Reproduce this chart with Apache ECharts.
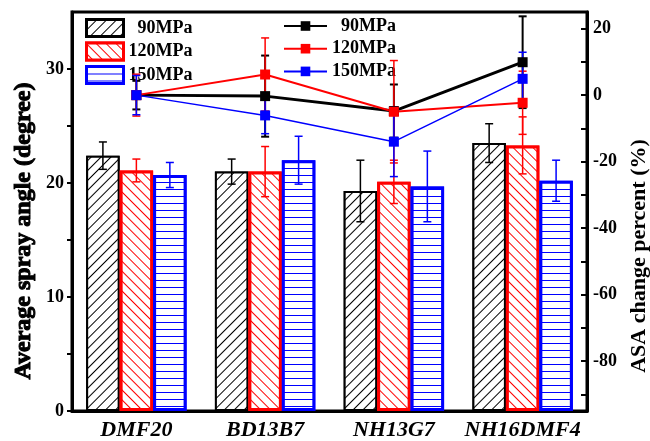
<!DOCTYPE html>
<html>
<head>
<meta charset="utf-8">
<script src="https://cdn.jsdelivr.net/npm/echarts@6/dist/echarts.min.js"></script>
<style>
  html, body { margin: 0; padding: 0; background: #fff; }
  #chart { width: 650px; height: 441px; }
</style>
</head>
<body>
<div id="chart"></div>
<script>
// 数据
var categories = ['DMF20', 'BD13B7', 'NH13G7', 'NH16DMF4'];
var pressures = ['90MPa', '120MPa', '150MPa'];
// 平均喷雾锥角 (degree) 及误差
var angle90 = [22.4, 21.0, 19.3, 23.5];
var angle120 = [21.1, 21.0, 20.1, 23.3];
var angle150 = [20.7, 22.0, 19.7, 20.2];
var angleErr90 = [1.2, 1.1, 2.7, 1.7];
var angleErr120 = [1.0, 2.2, 1.9, 2.5];
var angleErr150 = [1.1, 2.1, 3.1, 1.8];
// ASA 变化百分比 (%) 及误差
var change90 = [0, -0.3, -4.8, 9.9];
var change120 = [0, 6.2, -5.0, -2.3];
var change150 = [0, -6.1, -14.0, 4.9];
var changeErr90 = [4.3, 12.2, 8.0, 13.8];
var changeErr120 = [6.3, 11.0, 15.4, 9.5];
var changeErr150 = [5.9, 5.5, 10.5, 8.0];
// 刻度
var leftTicks = [0, 5, 10, 15, 20, 25, 30];
var leftLabels = [0, 10, 20, 30];
var rightTicks = [-90, -80, -70, -60, -50, -40, -30, -20, -10, 0, 10, 20];
var rightLabels = [-80, -60, -40, -20, 0, 20];

var colors = ['#000000', '#ff0000', '#0000ff'];
var serif = '"Liberation Serif", "Times New Roman", serif';
var barPct = 0.26;

var myChart = echarts.init(document.getElementById('chart'));

function hatch(color, rot) {
    return {
        symbol: 'rect',
        symbolSize: 1,
        dashArrayX: [1, 0],
        dashArrayY: [1, 6],
        rotation: rot,
        color: color,
        backgroundColor: '#fff'
    };
}

function errorSeries(k, vals, errs, axis, width) {
    return {
        type: 'custom',
        yAxisIndex: axis,
        z: axis === 0 ? 4 : 5,
        silent: true,
        data: vals.map(function (v, i) { return [i, v, errs[i]]; }),
        renderItem: function (params, api) {
            // 柱状图的误差棒需要按组内位置偏移
            var off = axis === 0 ? (k - 1) * api.size([1, 0])[0] * barPct : 0;
            var top = api.coord([api.value(0), api.value(1) + api.value(2)]);
            var bot = api.coord([api.value(0), api.value(1) - api.value(2)]);
            var x = top[0] + off;
            var st = { stroke: colors[k], lineWidth: width };
            return {
                type: 'group',
                children: [
                    { type: 'line', shape: { x1: x, y1: top[1], x2: x, y2: bot[1] }, style: st },
                    { type: 'line', shape: { x1: x - 4, y1: top[1], x2: x + 4, y2: top[1] }, style: st },
                    { type: 'line', shape: { x1: x - 4, y1: bot[1], x2: x + 4, y2: bot[1] }, style: st }
                ]
            };
        }
    };
}

var lineNames = ['L90', 'L120', 'L150'];
var angles = [angle90, angle120, angle150];
var angleErrs = [angleErr90, angleErr120, angleErr150];
var changes = [change90, change120, change150];
var changeErrs = [changeErr90, changeErr120, changeErr150];
var decals = [hatch('#000', -Math.PI / 4), hatch('#ff0000', Math.PI / 4), hatch('#0000ff', 0)];
var lineWidths = [3, 2, 1.5];
var borderWidths = [2, 3, 3];

var series = [];
pressures.forEach(function (p, k) {
    series.push({
        name: p,
        type: 'bar',
        yAxisIndex: 0,
        barWidth: (barPct * 100) + '%',
        barGap: '0%',
        z: 2,
        itemStyle: {
            color: '#fff',
            borderColor: colors[k],
            borderWidth: borderWidths[k],
            decal: decals[k]
        },
        data: angles[k]
    });
});
pressures.forEach(function (p, k) {
    series.push(errorSeries(k, angles[k], angleErrs[k], 0, 1.5));
});
pressures.forEach(function (p, k) {
    series.push(errorSeries(k, changes[k], changeErrs[k], 1, k === 0 ? 2 : 1.5));
});
pressures.forEach(function (p, k) {
    series.push({
        name: lineNames[k],
        type: 'line',
        yAxisIndex: 1,
        z: 6,
        symbol: 'rect',
        symbolSize: 10,
        color: colors[k],
        lineStyle: { color: colors[k], width: lineWidths[k] },
        itemStyle: { color: colors[k] },
        data: changes[k]
    });
});

var legendText = {
    padding: 0,
    formatter: function (name) {
        return '{t|' + name.replace('L', '') + (name.charAt(0) === 'L' ? 'MPa' : '') + '}';
    },
    textStyle: {
        rich: {
            t: { width: 64, align: 'right', fontFamily: serif, fontWeight: 'bold', fontSize: 18, lineHeight: 18, color: '#000' }
        }
    }
};

var option = {
    animation: false,
    backgroundColor: '#fff',
    grid: {
        left: 72,
        right: 63,
        top: 12,
        bottom: 28,
        show: true,
        borderColor: '#000',
        borderWidth: 3
    },
    legend: [
        Object.assign({
            orient: 'vertical',
            left: 85,
            top: 18,
            itemWidth: 37,
            itemHeight: 17,
            itemGap: 3.5,
            icon: 'rect',
            data: pressures.map(function (p, k) {
                return {
                    name: p,
                    itemStyle: { color: '#fff', borderColor: colors[k], borderWidth: 3, decal: decals[k] }
                };
            })
        }, legendText),
        Object.assign({
            orient: 'vertical',
            left: 283,
            top: 17,
            itemWidth: 43,
            itemHeight: 12,
            itemGap: 4.7,
            data: lineNames
        }, legendText)
    ],
    xAxis: {
        type: 'category',
        data: categories,
        axisLine: { lineStyle: { color: '#000', width: 3 } },
        axisTick: { show: false },
        axisLabel: {
            interval: 0,
            color: '#000',
            fontFamily: serif,
            fontWeight: 'bold',
            fontStyle: 'italic',
            fontSize: 22,
            margin: 8
        }
    },
    yAxis: [
        {
            type: 'value',
            min: 0,
            max: 35,
            splitLine: { show: false },
            axisLine: { show: true, lineStyle: { color: '#000', width: 3 } },
            axisTick: { show: true, length: 5, lineStyle: { width: 2 }, customValues: leftTicks },
            axisLabel: {
                color: '#000', fontFamily: serif, fontWeight: 'bold', fontSize: 18, margin: 8,
                customValues: leftLabels
            }
        },
        {
            type: 'value',
            min: -95,
            max: 25,
            position: 'right',
            splitLine: { show: false },
            axisLine: { show: true, lineStyle: { color: '#000', width: 3 } },
            axisTick: { show: true, inside: true, length: 6, lineStyle: { width: 2 }, customValues: rightTicks },
            axisLabel: {
                color: '#000', fontFamily: serif, fontWeight: 'bold', fontSize: 18, margin: 6,
                customValues: rightLabels
            }
        }
    ],
    graphic: [
        {
            type: 'text', x: 24, y: 231, rotation: Math.PI / 2,
            style: {
                text: 'Average spray angle (degree)', fill: '#000',
                font: 'bold 24px ' + serif, textAlign: 'center', textVerticalAlign: 'middle'
            }
        },
        {
            type: 'text', x: 639, y: 256, rotation: Math.PI / 2,
            style: {
                text: 'ASA change percent (%)', fill: '#000',
                font: 'bold 22px ' + serif, textAlign: 'center', textVerticalAlign: 'middle'
            }
        }
    ],
    series: series
};

myChart.setOption(option);

// 指向右轴的箭头
var p = myChart.convertToPixel({ xAxisIndex: 0, yAxisIndex: 1 }, [categories.length - 1, change150[change150.length - 1]]);
myChart.setOption({
    graphic: [
        {
            type: 'line', z: 10,
            shape: { x1: p[0] + 9, y1: p[1], x2: p[0] + 38, y2: p[1] },
            style: { stroke: '#000', lineWidth: 1 }
        },
        {
            type: 'polygon', z: 10,
            shape: { points: [[p[0] + 44, p[1]], [p[0] + 36, p[1] - 3], [p[0] + 36, p[1] + 3]] },
            style: { fill: '#000' }
        }
    ]
});

window.addEventListener('resize', function () {
    myChart.resize();
});
</script>
</body>
</html>
